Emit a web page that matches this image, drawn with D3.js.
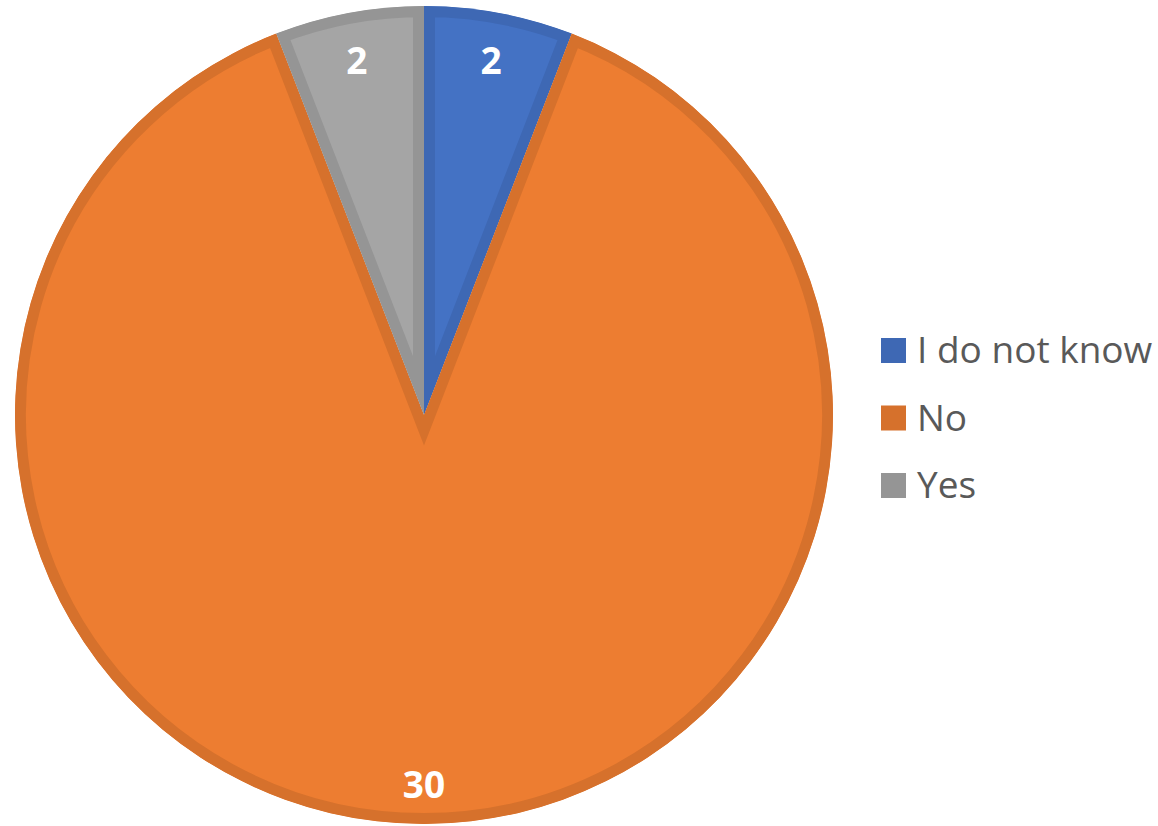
<!DOCTYPE html>
<html>
<head>
<meta charset="utf-8">
<script src="https://cdn.jsdelivr.net/npm/d3@7"></script>
<style>
  html, body { margin: 0; padding: 0; background: #ffffff; }
  svg { display: block; }
</style>
</head>
<body>
<svg id="chart" width="1158" height="826"></svg>
<script>
// Survey answers
const categories = ["I do not know", "No", "Yes"];
const counts = [2, 30, 2];
const fillColors = ["#4472C4", "#ED7D31", "#A5A5A5"];
const edgeColors = ["#3E68B4", "#D6712C", "#959595"];

const width = 1158, height = 826;
const cx = 424, cy = 415, radius = 409;
const borderWidth = 11;

const svg = d3.select("#chart");

const rows = categories.map((c, i) => ({ name: c, value: counts[i], i }));

const pie = d3.pie().sort(null).value(d => d.value);
const arcs = pie(rows);

const arc = d3.arc().innerRadius(0).outerRadius(radius);
const labelArc = d3.arc().innerRadius(365).outerRadius(365);

const defs = svg.append("defs");

// Each slice: fill, then a border drawn inside the slice outline (clipped)
arcs.forEach((a, k) => {
  defs.append("clipPath").attr("id", "slice-clip-" + k)
    .append("path").attr("d", arc(a)).attr("transform", `translate(${cx},${cy})`);
});

const slices = svg.append("g");
arcs.forEach((a, k) => {
  const s = slices.append("g").attr("clip-path", `url(#slice-clip-${k})`);
  s.append("path")
    .attr("transform", `translate(${cx},${cy})`)
    .attr("d", arc(a))
    .attr("fill", fillColors[a.data.i])
    .attr("stroke", edgeColors[a.data.i])
    .attr("stroke-width", borderWidth * 2)
    .attr("stroke-linejoin", "miter")
    .attr("stroke-miterlimit", 20);
});

// Data labels near the outer edge
const labels = svg.append("g").attr("transform", `translate(${cx},${cy})`);
arcs.forEach(a => {
  const [x, y] = labelArc.centroid(a);
  labels.append("text")
    .attr("x", x)
    .attr("y", y + 18)
    .attr("text-anchor", "middle")
    .attr("font-family", "'Open Sans', sans-serif")
    .attr("font-weight", "bold")
    .attr("font-size", 37)
    .attr("fill", "#ffffff")
    .text(a.data.value);
});

// Legend
const legendY = d3.scalePoint().domain(categories).range([363, 498]);
const legend = svg.append("g");
categories.forEach((c, i) => {
  const y = legendY(c);
  legend.append("rect")
    .attr("x", 881).attr("y", y - 25)
    .attr("width", 25).attr("height", 25)
    .attr("fill", edgeColors[i]);
  legend.append("text")
    .attr("x", 917).attr("y", y)
    .attr("font-family", "'Open Sans', sans-serif")
    .attr("font-size", 37)
    .attr("fill", "#595959")
    .text(c);
});
</script>
</body>
</html>
